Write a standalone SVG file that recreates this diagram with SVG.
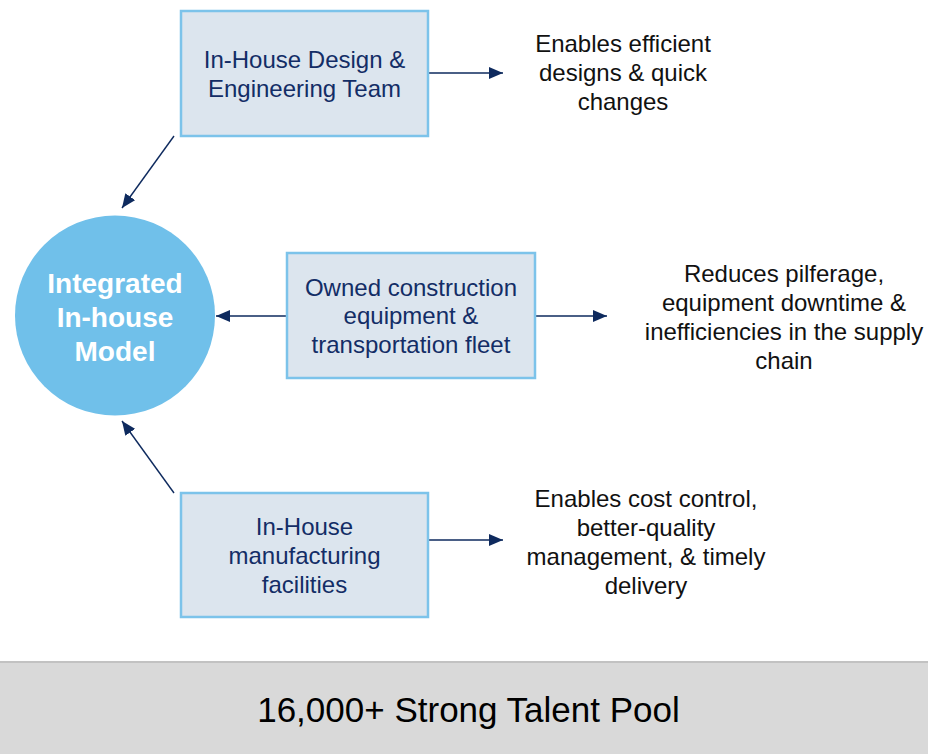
<svg xmlns="http://www.w3.org/2000/svg" width="928" height="754" viewBox="0 0 928 754">
<style>
.box{fill:#dce5ee;stroke:#7cc3ea;stroke-width:2.5}
.bt{font-family:"Liberation Sans",Arial,sans-serif;font-size:24px;fill:#132d66;text-anchor:middle}
.rt{font-family:"Liberation Sans",Arial,sans-serif;font-size:24px;fill:#111;text-anchor:middle}
.ct{font-family:"Liberation Sans",Arial,sans-serif;font-size:28px;font-weight:bold;fill:#fff;text-anchor:middle}
.c{stroke:#0e2a5e;stroke-width:1.4;fill:none;marker-end:url(#ah)}
</style>
<defs>
<marker id="ah" markerUnits="userSpaceOnUse" markerWidth="15" markerHeight="12" refX="14" refY="6" orient="auto">
<path d="M0,0 L14,6 L0,12 Z" fill="#0e2a5e"/>
</marker>
</defs>
<rect width="928" height="754" fill="#fff"/>
<g id="connectors">
<line class="c" x1="428" y1="73" x2="503" y2="73"/>
<line class="c" x1="535" y1="316" x2="607" y2="316"/>
<line class="c" x1="428" y1="540" x2="503" y2="540"/>
<line class="c" x1="287" y1="316" x2="216" y2="316"/>
<line class="c" x1="174" y1="136" x2="122" y2="208"/>
<line class="c" x1="174" y1="493" x2="122" y2="421"/>
</g>
<g id="n-design">
<rect class="box" x="181" y="11" width="247" height="125"/>
<text class="bt" x="304.5" y="68">In-House Design &amp;</text>
<text class="bt" x="304.5" y="97">Engineering Team</text>
</g>
<g id="n-equipment">
<rect class="box" x="287" y="253" width="248" height="125"/>
<text class="bt" x="411" y="296">Owned construction</text>
<text class="bt" x="411" y="324">equipment &amp;</text>
<text class="bt" x="411" y="353">transportation fleet</text>
</g>
<g id="n-manufacturing">
<rect class="box" x="181" y="493" width="247" height="124"/>
<text class="bt" x="304.5" y="535">In-House</text>
<text class="bt" x="304.5" y="564">manufacturing</text>
<text class="bt" x="304.5" y="593">facilities</text>
</g>
<g id="n-model">
<circle cx="115" cy="315.5" r="100" fill="#70c0ea"/>
<text class="ct" x="115" y="293">Integrated</text>
<text class="ct" x="115" y="327">In-house</text>
<text class="ct" x="115" y="361">Model</text>
</g>
<g id="n-r1">
<text class="rt" x="623" y="52">Enables efficient</text>
<text class="rt" x="623" y="81">designs &amp; quick</text>
<text class="rt" x="623" y="110">changes</text>
</g>
<g id="n-r2">
<text class="rt" x="784" y="282">Reduces pilferage,</text>
<text class="rt" x="784" y="311">equipment downtime &amp;</text>
<text class="rt" x="784" y="340">inefficiencies in the supply</text>
<text class="rt" x="784" y="369">chain</text>
</g>
<g id="n-r3">
<text class="rt" x="646" y="507">Enables cost control,</text>
<text class="rt" x="646" y="536">better-quality</text>
<text class="rt" x="646" y="565">management, &amp; timely</text>
<text class="rt" x="646" y="594">delivery</text>
</g>
<g id="n-talent">
<rect x="0" y="662" width="928" height="92" fill="#d9d9d9"/>
<line x1="0" y1="662" x2="928" y2="662" stroke="#c2c2c2" stroke-width="2"/>
<text x="468.5" y="722" font-family="'Liberation Sans',Arial,sans-serif" font-size="35" fill="#000" text-anchor="middle">16,000+ Strong Talent Pool</text>
</g>
</svg>
